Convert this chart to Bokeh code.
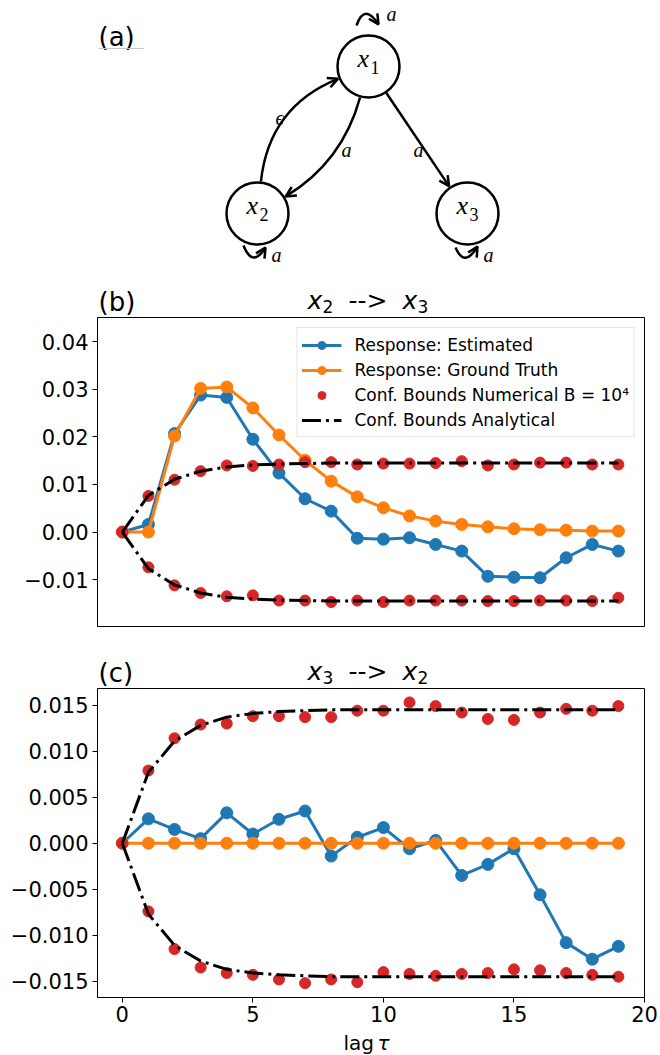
import math
from bokeh.plotting import figure
from bokeh.layouts import column
from bokeh.models import (Range1d, Legend, LegendItem, FixedTicker,
                          CustomJSTickFormatter, Arrow, OpenHead)
from bokeh.core.properties import value
from bokeh.embed import file_html
from bokeh.resources import INLINE

# ---------------- data ----------------
lags = list(range(20))

b_estimated = [0.0, 0.0016, 0.0207, 0.0288, 0.0283, 0.0195, 0.0124, 0.0070, 0.0044,
               -0.0013, -0.0015, -0.0012, -0.0026, -0.0040, -0.0093, -0.0095, -0.0096,
               -0.0054, -0.0026, -0.0040]
b_ground_truth = [0.0, 0.0, 0.0202, 0.0302, 0.0305, 0.0261, 0.0204, 0.0151, 0.0107,
                  0.0074, 0.0051, 0.0034, 0.0023, 0.0016, 0.0011, 0.0007, 0.0005,
                  0.0004, 0.0002, 0.0002]
b_num_upper = [0.0, 0.0076, 0.0110, 0.0128, 0.0140, 0.0139, 0.0142, 0.0147, 0.0147,
               0.0142, 0.0144, 0.0144, 0.0145, 0.0149, 0.0140, 0.0142, 0.0146, 0.0146,
               0.0142, 0.0142]
b_num_lower = [0.0, -0.0074, -0.0112, -0.0128, -0.0135, -0.0133, -0.0144, -0.0144,
               -0.0147, -0.0144, -0.0147, -0.0144, -0.0144, -0.0144, -0.0145, -0.0145,
               -0.0144, -0.0144, -0.0145, -0.0138]
b_ana_upper = [0.0, 0.0077, 0.0111, 0.0128, 0.0137, 0.0141, 0.0143, 0.0144, 0.0145,
               0.0145, 0.0145, 0.0145, 0.0145, 0.0145, 0.0145, 0.0145, 0.0145, 0.0145,
               0.0145, 0.0145]
b_ana_lower = [0.0, -0.0077, -0.0111, -0.0128, -0.0137, -0.0141, -0.0143, -0.0144,
               -0.0145, -0.0145, -0.0145, -0.0145, -0.0145, -0.0145, -0.0145, -0.0145,
               -0.0145, -0.0145, -0.0145, -0.0145]

c_estimated = [0.0, 0.00265, 0.0015, 0.0005, 0.0033, 0.0010, 0.0026, 0.0035, -0.0014,
               0.00065, 0.0017, -0.0006, 0.0003, -0.0035, -0.0023, -0.0006, -0.0056,
               -0.0108, -0.0126, -0.0112]
c_ground_truth = [0.0, 0.0, 0.0, 0.0, 0.0, 0.0, 0.0, 0.0, 0.0, 0.0, 0.0, 0.0, 0.0, 0.0,
                  0.0, 0.0, 0.0, 0.0, 0.0, 0.0]
c_num_upper = [0.0, 0.0079, 0.0114, 0.0129, 0.0130, 0.0138, 0.0138, 0.0137, 0.0137,
               0.0144, 0.0144, 0.0153, 0.0149, 0.0142, 0.0135, 0.0134, 0.0142, 0.0146,
               0.0144, 0.0149]
c_num_lower = [0.0, -0.0074, -0.0115, -0.0135, -0.0141, -0.0143, -0.0148, -0.0152,
               -0.0148, -0.0151, -0.0140, -0.0142, -0.0144, -0.0142, -0.0141, -0.0137,
               -0.0138, -0.0141, -0.0143, -0.0145]
c_ana_upper = [0.0, 0.0077, 0.0111, 0.0128, 0.0137, 0.0141, 0.0143, 0.0144, 0.0145,
               0.0145, 0.0145, 0.0145, 0.0145, 0.0145, 0.0145, 0.0145, 0.0145, 0.0145,
               0.0145, 0.0145]
c_ana_lower = [0.0, -0.0077, -0.0111, -0.0128, -0.0137, -0.0141, -0.0143, -0.0144,
               -0.0145, -0.0145, -0.0145, -0.0145, -0.0145, -0.0145, -0.0145, -0.0145,
               -0.0145, -0.0145, -0.0145, -0.0145]

b_yticks = [-0.02, -0.01, 0.0, 0.01, 0.02, 0.03, 0.04]
c_yticks = [-0.015, -0.010, -0.005, 0.0, 0.005, 0.010, 0.015]
x_ticks = [0, 5, 10, 15, 20]

legend_labels = ["Response: Estimated", "Response: Ground Truth",
                 "Conf. Bounds Numerical B = 10⁴", "Conf. Bounds Analytical"]

# diagram (a)
node_x = [368, 257, 467]
node_y = [66, 213, 213]
node_sub = ["1", "2", "3"]
node_r = 31
edge_src = [1, 0, 0]
edge_dst = [0, 1, 2]
edge_bend = [-0.3, -0.2, 0.0]
edge_text = ["ϵ", "a", "a"]
edge_text_x = [275, 341, 413]
edge_text_y = [124, 156, 156]
loop_node = [0, 1, 2]
loop_start = [(-12, -41), (-14, 32), (-12, 34)]
loop_ctrl = [(-4, -64), (-5, 55), (-3, 55)]
loop_end = [(10, -42), (8, 34), (10, 33)]
loop_text_off = [(18, -46), (14, 48), (16, 48)]

BLUE = "#1f77b4"
ORANGE = "#ff7f0e"
RED = "#d62728"
W = 660
LEFT, RIGHT = 97, 644
FONT = "DejaVu Sans"
SERIF = "Liberation Serif"


def mid(base, px):
    # y of the text box middle for a given alphabetic baseline
    return base - 0.345 * px


def blank(height, y_top, y_bot):
    f = figure(width=W, height=height, x_range=Range1d(LEFT, RIGHT),
               y_range=Range1d(y_bot, y_top), output_backend="svg",
               toolbar_location=None, min_border_left=LEFT, min_border_right=W - RIGHT,
               min_border_top=0, min_border_bottom=0,
               x_axis_location=None, y_axis_location=None)
    f.outline_line_color = None
    f.grid.visible = False
    return f


def txt(f, x, base, t, px, style="normal", font=FONT):
    f.text(x=[x], y=[mid(base, px)], text=[t], text_font=value(font),
           text_font_style=style, text_font_size="%dpx" % px, text_color="black",
           text_baseline="middle", text_align="left")


# ---------------- (a) diagram ----------------
pa = blank(280, 0, 280)
txt(pa, 98, 45, "(a)", 26)
pa.segment(x0=[98], y0=[48], x1=[143], y1=[48], line_color="#c8c8c8", line_width=1)

pa.circle(x=node_x, y=node_y, radius=node_r, fill_color=None, line_color="black",
          line_width=2.5)
pa.text(x=[nx - 11 for nx in node_x], y=[mid(ny + 1, 26) for ny in node_y], text=["x"] * 3,
        text_font=value(SERIF), text_font_style="italic", text_font_size="26px",
        text_color="black", text_baseline="middle", text_align="left")
pa.text(x=[nx + 2 for nx in node_x], y=[mid(ny + 7, 18) for ny in node_y], text=node_sub,
        text_font=value(SERIF), text_font_size="18px", text_color="black",
        text_baseline="middle", text_align="left")


def add_head(fig, cx, cy, ex, ey):
    tx, ty = ex - cx, ey - cy
    L = math.hypot(tx, ty)
    tx, ty = tx / L, ty / L
    fig.add_layout(Arrow(end=OpenHead(size=10, line_width=2.5, line_color="black"),
                         x_start=ex - 3 * tx, y_start=ey - 3 * ty, x_end=ex, y_end=ey,
                         line_width=2.5, line_color="black"))


qx0, qy0, qx1, qy1, qcx, qcy = [], [], [], [], [], []
for i in range(len(edge_src)):
    ax, ay = node_x[edge_src[i]], node_y[edge_src[i]]
    bx_, by_ = node_x[edge_dst[i]], node_y[edge_dst[i]]
    dx, dy = bx_ - ax, by_ - ay
    cx = (ax + bx_) / 2 + edge_bend[i] * (-dy)
    cy = (ay + by_) / 2 + edge_bend[i] * dx
    da = math.hypot(cx - ax, cy - ay)
    db = math.hypot(cx - bx_, cy - by_)
    sx, sy = ax + (node_r + 1) * (cx - ax) / da, ay + (node_r + 1) * (cy - ay) / da
    ex, ey = bx_ + (node_r + 2) * (cx - bx_) / db, by_ + (node_r + 2) * (cy - by_) / db
    qx0.append(sx); qy0.append(sy); qx1.append(ex); qy1.append(ey)
    qcx.append(cx); qcy.append(cy)
    add_head(pa, cx, cy, ex, ey)

for i, n in enumerate(loop_node):
    nx, ny = node_x[n], node_y[n]
    sx, sy = nx + loop_start[i][0], ny + loop_start[i][1]
    cx, cy = nx + loop_ctrl[i][0], ny + loop_ctrl[i][1]
    ex, ey = nx + loop_end[i][0], ny + loop_end[i][1]
    qx0.append(sx); qy0.append(sy); qx1.append(ex); qy1.append(ey)
    qcx.append(cx); qcy.append(cy)
    add_head(pa, cx, cy, ex, ey)

pa.quadratic(x0=qx0, y0=qy0, x1=qx1, y1=qy1, cx=qcx, cy=qcy, line_color="black",
             line_width=2.5)

lab_x = edge_text_x + [node_x[n] + loop_text_off[i][0] for i, n in enumerate(loop_node)]
lab_y = edge_text_y + [node_y[n] + loop_text_off[i][1] for i, n in enumerate(loop_node)]
pa.text(x=lab_x, y=[mid(v, 20) for v in lab_y], text=edge_text + ["a"] * len(loop_node),
        text_font=value(SERIF), text_font_style="italic", text_font_size="20px",
        text_color="black", text_baseline="middle", text_align="left")


# ---------------- headers ----------------
def header(height, y_top, base, letter, sub_a, sub_b):
    h = blank(height, y_top, y_top + height)
    txt(h, 98, base + 1, letter, 26)
    txt(h, 307, base, "x", 25, "italic")
    txt(h, 322, base + 3, sub_a, 17)
    txt(h, 348, base, "-->", 25)
    txt(h, 402, base, "x", 25, "italic")
    txt(h, 417, base + 3, sub_b, 17)
    return h


# ---------------- (b), (c) panels ----------------
def panel(height, bottom, ylo, yhi, yticks, decimals, show_x):
    p = figure(width=W, height=height, x_range=Range1d(-0.95, 20.0),
               y_range=Range1d(ylo, yhi), output_backend="svg", toolbar_location=None,
               min_border_left=LEFT, min_border_right=W - RIGHT, min_border_top=0,
               min_border_bottom=bottom, x_axis_location="below" if show_x else None)
    p.grid.visible = False
    p.outline_line_color = "black"
    p.outline_line_width = 1
    p.yaxis.ticker = FixedTicker(ticks=yticks, minor_ticks=[])
    p.yaxis.formatter = CustomJSTickFormatter(
        code="const s = Math.abs(tick).toFixed(%d); return (tick < -1e-12 ? '\u2212' : '') + s;" % decimals)
    axes = list(p.yaxis) + (list(p.xaxis) if show_x else [])
    for ax in axes:
        ax.major_label_text_font = FONT
        ax.major_label_text_font_size = "21px"
        ax.major_label_text_color = "black"
        ax.axis_line_color = "black"
        ax.major_tick_line_color = "black"
        ax.major_tick_out = 5
        ax.major_tick_in = 0
        ax.minor_tick_out = 0
        ax.minor_tick_in = 0
        ax.major_label_standoff = 4
    if show_x:
        p.xaxis.ticker = FixedTicker(ticks=x_ticks, minor_ticks=[])
        p.xaxis.major_label_standoff = 3
    return p


def draw(p, est, gt, nu, nl, au, al):
    r1 = p.line(lags, est, line_color=BLUE, line_width=3)
    r2 = p.scatter(lags, est, size=12, color=BLUE)
    r3 = p.line(lags, gt, line_color=ORANGE, line_width=3)
    r4 = p.scatter(lags, gt, size=12, color=ORANGE)
    r5 = p.scatter(lags, nu, size=11, color=RED)
    p.scatter(lags, nl, size=11, color=RED)
    r6 = p.line(lags, au, line_color="black", line_width=3, line_dash="19 5 3 5")
    p.line(lags, al, line_color="black", line_width=3, line_dash="19 5 3 5")
    return [[r1, r2], [r3, r4], [r5], [r6]]


hb = header(37, 280, 309, "(b)", "2", "3")

b_lo, b_hi = -0.01985, 0.0451
pb = panel(333, 24, b_lo, b_hi, b_yticks, 2, False)
items = draw(pb, b_estimated, b_ground_truth, b_num_upper, b_num_lower, b_ana_upper, b_ana_lower)
legend = Legend(items=[LegendItem(label=l, renderers=r) for l, r in zip(legend_labels, items)],
                location="top_right", label_text_font=FONT, label_text_font_size="17px",
                label_text_color="black",
                glyph_width=40, glyph_height=20, label_height=25, label_standoff=13,
                spacing=0, padding=4, margin=10, border_line_color="#cccccc",
                border_line_width=1, background_fill_alpha=0.8)
pb.add_layout(legend)

hc = header(38, 650, 680, "(c)", "3", "2")

c_lo, c_hi = -0.01676, 0.01681
pc = panel(342, 33, c_lo, c_hi, c_yticks, 3, True)
draw(pc, c_estimated, c_ground_truth, c_num_upper, c_num_lower, c_ana_upper, c_ana_lower)

foot = blank(25, 1030, 1055)
txt(foot, 343, 1049, "lag", 20)
txt(foot, 377, 1049, "τ", 20, "italic")

layout = column(pa, hb, pb, hc, pc, foot, spacing=0)
open("out.html", "w").write(file_html(layout, INLINE))
